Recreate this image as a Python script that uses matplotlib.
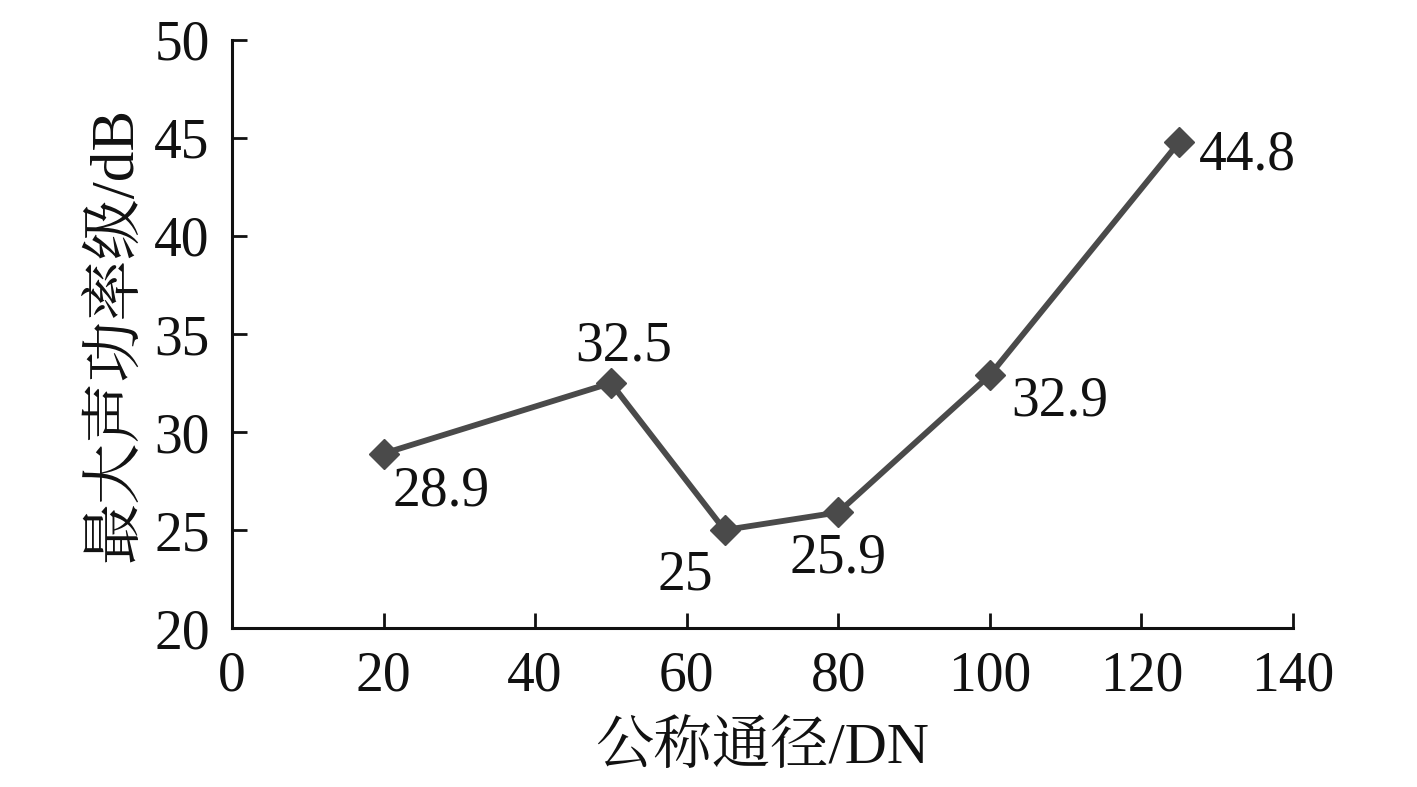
import matplotlib
matplotlib.use("Agg")
import matplotlib.pyplot as plt

# dane z wykresu
dn = [20, 50, 65, 80, 100, 125]
lw_max = [28.9, 32.5, 25.0, 25.9, 32.9, 44.8]
labels = ["28.9", "32.5", "25", "25.9", "32.9", "44.8"]
# przesuniecia etykiet w pikselach (dx, dy)
offsets = [(58, -38), (13, 37), (-39, -45), (0, -46), (70, -26), (68, -14)]

FONT = ["Liberation Serif", "Noto Serif CJK SC", "Noto Sans CJK SC", "DejaVu Serif"]
plt.rcParams["font.family"] = FONT

fig = plt.figure(figsize=(14.17, 7.87), dpi=100)
ax = fig.add_axes([0.1637, 0.2020, 0.9125 - 0.1637, 0.9492 - 0.2020])

ax.plot(dn, lw_max, color="#4a4a4a", lw=4.2, marker="D", ms=15,
        markerfacecolor="#4a4a4a", markeredgecolor="#4a4a4a")

for x, y, t, (dx, dy) in zip(dn, lw_max, labels, offsets):
    ax.annotate(t, (x, y), xytext=(dx, dy), textcoords="offset pixels",
                ha="center", va="center", fontsize=40, color="#111111")

ax.set_xlim(0, 140)
ax.set_ylim(20, 50)
ax.set_xticks(range(0, 141, 20))
ax.set_yticks(range(20, 51, 5))
ax.tick_params(direction="in", length=11, width=2, labelsize=40,
               colors="#111111")
ax.tick_params(axis="x", pad=16)
ax.tick_params(axis="y", pad=16)
for s in ("top", "right"):
    ax.spines[s].set_visible(False)
for s in ("left", "bottom"):
    ax.spines[s].set_linewidth(2.2)
    ax.spines[s].set_color("#111111")

ax.set_xlabel("公称通径/DN", fontsize=42, color="#111111", labelpad=12)
ax.set_ylabel("最大声功率级/dB", fontsize=44, color="#111111", labelpad=6)

fig.savefig("out.png", dpi=100)
